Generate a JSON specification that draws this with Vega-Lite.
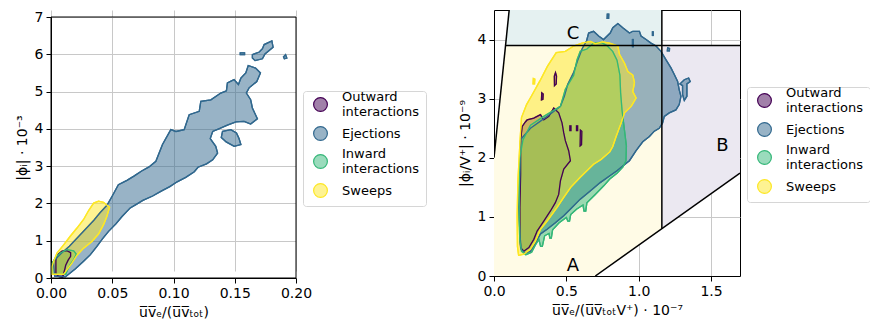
{
"$schema": "https://vega.github.io/schema/vega-lite/v6.json",
"padding": {"left": 15, "top": 9, "right": 0, "bottom": 0},
"autosize": {"type": "pad"},
"background": "white",
"spacing": 30,
"config": {
  "font": "DejaVu Sans",
  "view": {"stroke": "black", "strokeWidth": 1},
  "axis": {"labelFont": "DejaVu Sans", "labelFontSize": 14, "labelColor": "black", "titleFont": "DejaVu Sans", "titleFontSize": 14, "titleFontWeight": "normal", "titleColor": "black", "domainColor": "black", "tickColor": "black", "tickSize": 5, "gridColor": "#c8c8c8", "gridWidth": 1, "labelPadding": 3, "titlePadding": 5, "zindex": 1, "labelFlush": false},
  "legend": {"labelFont": "DejaVu Sans", "labelFontSize": 13, "labelColor": "black", "symbolType": "circle", "symbolSize": 190, "symbolStrokeWidth": 1.2, "strokeColor": "#d6d6d6", "fillColor": "white", "padding": 6, "cornerRadius": 3, "rowPadding": 5, "labelOffset": 14, "symbolOffset": 4}
},
"datasets": {
"box": [{"x": 0, "x2": 0.2, "y": 0, "y2": 7}],
"left": [
{"c":"O","p":"O1","i":0,"x":0.004,"y":0.12},{"c":"O","p":"O1","i":1,"x":0.004,"y":0.5},{"c":"O","p":"O1","i":2,"x":0.006,"y":0.64},{"c":"O","p":"O1","i":3,"x":0.009,"y":0.72},{"c":"O","p":"O1","i":4,"x":0.013,"y":0.73},{"c":"O","p":"O1","i":5,"x":0.016,"y":0.68},{"c":"O","p":"O1","i":6,"x":0.016,"y":0.58},{"c":"O","p":"O1","i":7,"x":0.014,"y":0.48},{"c":"O","p":"O1","i":8,"x":0.012,"y":0.34},{"c":"O","p":"O1","i":9,"x":0.011,"y":0.2},{"c":"O","p":"O1","i":10,"x":0.0095,"y":0.02},{"c":"O","p":"O1","i":11,"x":0.006,"y":0.04},
{"c":"E","p":"E1","i":0,"x":0.003,"y":0.05},{"c":"E","p":"E1","i":1,"x":0.0117,"y":0.03},{"c":"E","p":"E1","i":2,"x":0.02,"y":0.25},{"c":"E","p":"E1","i":3,"x":0.0266,"y":0.45},{"c":"E","p":"E1","i":4,"x":0.032,"y":0.62},{"c":"E","p":"E1","i":5,"x":0.0375,"y":0.85},{"c":"E","p":"E1","i":6,"x":0.042,"y":1.05},{"c":"E","p":"E1","i":7,"x":0.047,"y":1.25},{"c":"E","p":"E1","i":8,"x":0.053,"y":1.45},{"c":"E","p":"E1","i":9,"x":0.058,"y":1.65},{"c":"E","p":"E1","i":10,"x":0.0647,"y":1.88},{"c":"E","p":"E1","i":11,"x":0.07,"y":1.98},{"c":"E","p":"E1","i":12,"x":0.075,"y":2.08},{"c":"E","p":"E1","i":13,"x":0.083,"y":2.2},{"c":"E","p":"E1","i":14,"x":0.09,"y":2.33},{"c":"E","p":"E1","i":15,"x":0.097,"y":2.45},{"c":"E","p":"E1","i":16,"x":0.103,"y":2.58},{"c":"E","p":"E1","i":17,"x":0.11,"y":2.7},{"c":"E","p":"E1","i":18,"x":0.117,"y":2.85},{"c":"E","p":"E1","i":19,"x":0.12,"y":2.97},{"c":"E","p":"E1","i":20,"x":0.127,"y":3.06},{"c":"E","p":"E1","i":21,"x":0.132,"y":3.17},{"c":"E","p":"E1","i":22,"x":0.136,"y":3.35},{"c":"E","p":"E1","i":23,"x":0.1345,"y":3.53},{"c":"E","p":"E1","i":24,"x":0.13,"y":3.74},{"c":"E","p":"E1","i":25,"x":0.132,"y":3.93},{"c":"E","p":"E1","i":26,"x":0.137,"y":4.0},{"c":"E","p":"E1","i":27,"x":0.144,"y":4.1},{"c":"E","p":"E1","i":28,"x":0.151,"y":4.19},{"c":"E","p":"E1","i":29,"x":0.1576,"y":4.2},{"c":"E","p":"E1","i":30,"x":0.163,"y":4.13},{"c":"E","p":"E1","i":31,"x":0.1685,"y":4.27},{"c":"E","p":"E1","i":32,"x":0.1644,"y":4.56},{"c":"E","p":"E1","i":33,"x":0.163,"y":4.78},{"c":"E","p":"E1","i":34,"x":0.1595,"y":4.96},{"c":"E","p":"E1","i":35,"x":0.1617,"y":5.1},{"c":"E","p":"E1","i":36,"x":0.168,"y":5.27},{"c":"E","p":"E1","i":37,"x":0.171,"y":5.5},{"c":"E","p":"E1","i":38,"x":0.167,"y":5.63},{"c":"E","p":"E1","i":39,"x":0.161,"y":5.7},{"c":"E","p":"E1","i":40,"x":0.159,"y":5.5},{"c":"E","p":"E1","i":41,"x":0.155,"y":5.36},{"c":"E","p":"E1","i":42,"x":0.153,"y":5.19},{"c":"E","p":"E1","i":43,"x":0.1494,"y":5.32},{"c":"E","p":"E1","i":44,"x":0.144,"y":5.23},{"c":"E","p":"E1","i":45,"x":0.1432,"y":5.02},{"c":"E","p":"E1","i":46,"x":0.1386,"y":4.96},{"c":"E","p":"E1","i":47,"x":0.1305,"y":4.78},{"c":"E","p":"E1","i":48,"x":0.1223,"y":4.74},{"c":"E","p":"E1","i":49,"x":0.121,"y":4.47},{"c":"E","p":"E1","i":50,"x":0.1128,"y":4.38},{"c":"E","p":"E1","i":51,"x":0.1087,"y":3.98},{"c":"E","p":"E1","i":52,"x":0.102,"y":3.93},{"c":"E","p":"E1","i":53,"x":0.0978,"y":3.98},{"c":"E","p":"E1","i":54,"x":0.091,"y":3.58},{"c":"E","p":"E1","i":55,"x":0.0856,"y":3.13},{"c":"E","p":"E1","i":56,"x":0.08,"y":2.98},{"c":"E","p":"E1","i":57,"x":0.074,"y":2.87},{"c":"E","p":"E1","i":58,"x":0.068,"y":2.74},{"c":"E","p":"E1","i":59,"x":0.062,"y":2.62},{"c":"E","p":"E1","i":60,"x":0.055,"y":2.5},{"c":"E","p":"E1","i":61,"x":0.05,"y":2.2},{"c":"E","p":"E1","i":62,"x":0.0457,"y":1.95},{"c":"E","p":"E1","i":63,"x":0.04,"y":1.75},{"c":"E","p":"E1","i":64,"x":0.035,"y":1.55},{"c":"E","p":"E1","i":65,"x":0.025,"y":1.2},{"c":"E","p":"E1","i":66,"x":0.015,"y":0.85},{"c":"E","p":"E1","i":67,"x":0.008,"y":0.65},{"c":"E","p":"E1","i":68,"x":0.002,"y":0.45},
{"c":"E","p":"E2","i":0,"x":0.14,"y":3.93},{"c":"E","p":"E2","i":1,"x":0.1468,"y":3.98},{"c":"E","p":"E2","i":2,"x":0.1514,"y":3.89},{"c":"E","p":"E2","i":3,"x":0.1535,"y":3.74},{"c":"E","p":"E2","i":4,"x":0.155,"y":3.58},{"c":"E","p":"E2","i":5,"x":0.1495,"y":3.53},{"c":"E","p":"E2","i":6,"x":0.143,"y":3.65},{"c":"E","p":"E2","i":7,"x":0.139,"y":3.77},
{"c":"E","p":"E3","i":0,"x":0.1644,"y":5.99},{"c":"E","p":"E3","i":1,"x":0.17,"y":6.06},{"c":"E","p":"E3","i":2,"x":0.1726,"y":6.15},{"c":"E","p":"E3","i":3,"x":0.174,"y":6.26},{"c":"E","p":"E3","i":4,"x":0.1803,"y":6.36},{"c":"E","p":"E3","i":5,"x":0.1813,"y":6.19},{"c":"E","p":"E3","i":6,"x":0.1747,"y":6.01},{"c":"E","p":"E3","i":7,"x":0.1726,"y":5.88},{"c":"E","p":"E3","i":8,"x":0.1666,"y":5.83},{"c":"E","p":"E3","i":9,"x":0.1644,"y":5.9},
{"c":"E","p":"E4","i":0,"x":0.1545,"y":6.04},{"c":"E","p":"E4","i":1,"x":0.158,"y":6.04},{"c":"E","p":"E4","i":2,"x":0.158,"y":5.99},{"c":"E","p":"E4","i":3,"x":0.1545,"y":5.99},
{"c":"E","p":"E5","i":0,"x":0.1915,"y":5.99},{"c":"E","p":"E5","i":1,"x":0.1925,"y":5.9},{"c":"E","p":"E5","i":2,"x":0.1905,"y":5.88},{"c":"E","p":"E5","i":3,"x":0.1898,"y":5.93},
{"c":"I","p":"I1","i":0,"x":0.001,"y":0.1},{"c":"I","p":"I1","i":1,"x":0.001,"y":0.4},{"c":"I","p":"I1","i":2,"x":0.004,"y":0.56},{"c":"I","p":"I1","i":3,"x":0.0076,"y":0.67},{"c":"I","p":"I1","i":4,"x":0.013,"y":0.76},{"c":"I","p":"I1","i":5,"x":0.0185,"y":0.73},{"c":"I","p":"I1","i":6,"x":0.0206,"y":0.64},{"c":"I","p":"I1","i":7,"x":0.0185,"y":0.49},{"c":"I","p":"I1","i":8,"x":0.0157,"y":0.36},{"c":"I","p":"I1","i":9,"x":0.0135,"y":0.22},{"c":"I","p":"I1","i":10,"x":0.012,"y":0.1},
{"c":"S","p":"S1","i":0,"x":0.0008,"y":0.1},{"c":"S","p":"S1","i":1,"x":0.0008,"y":0.3},{"c":"S","p":"S1","i":2,"x":0.0022,"y":0.45},{"c":"S","p":"S1","i":3,"x":0.0049,"y":0.67},{"c":"S","p":"S1","i":4,"x":0.0103,"y":0.89},{"c":"S","p":"S1","i":5,"x":0.0157,"y":1.12},{"c":"S","p":"S1","i":6,"x":0.0212,"y":1.34},{"c":"S","p":"S1","i":7,"x":0.0266,"y":1.57},{"c":"S","p":"S1","i":8,"x":0.0307,"y":1.81},{"c":"S","p":"S1","i":9,"x":0.0348,"y":2.01},{"c":"S","p":"S1","i":10,"x":0.0388,"y":2.06},{"c":"S","p":"S1","i":11,"x":0.0429,"y":2.03},{"c":"S","p":"S1","i":12,"x":0.0478,"y":1.9},{"c":"S","p":"S1","i":13,"x":0.0456,"y":1.65},{"c":"S","p":"S1","i":14,"x":0.0429,"y":1.43},{"c":"S","p":"S1","i":15,"x":0.0388,"y":1.18},{"c":"S","p":"S1","i":16,"x":0.0334,"y":0.98},{"c":"S","p":"S1","i":17,"x":0.0266,"y":0.8},{"c":"S","p":"S1","i":18,"x":0.0212,"y":0.61},{"c":"S","p":"S1","i":19,"x":0.017,"y":0.4},{"c":"S","p":"S1","i":20,"x":0.013,"y":0.22},{"c":"S","p":"S1","i":21,"x":0.0103,"y":0.1}
],
"right": [
{"c":"O","p":"O1","i":0,"x":0.184,"y":0.48},{"c":"O","p":"O1","i":1,"x":0.206,"y":0.42},{"c":"O","p":"O1","i":2,"x":0.241,"y":0.48},{"c":"O","p":"O1","i":3,"x":0.275,"y":0.62},{"c":"O","p":"O1","i":4,"x":0.298,"y":0.76},{"c":"O","p":"O1","i":5,"x":0.344,"y":0.93},{"c":"O","p":"O1","i":6,"x":0.39,"y":1.1},{"c":"O","p":"O1","i":7,"x":0.424,"y":1.24},{"c":"O","p":"O1","i":8,"x":0.447,"y":1.38},{"c":"O","p":"O1","i":9,"x":0.459,"y":1.61},{"c":"O","p":"O1","i":10,"x":0.482,"y":1.81},{"c":"O","p":"O1","i":11,"x":0.528,"y":1.95},{"c":"O","p":"O1","i":12,"x":0.516,"y":2.12},{"c":"O","p":"O1","i":13,"x":0.493,"y":2.29},{"c":"O","p":"O1","i":14,"x":0.482,"y":2.42},{"c":"O","p":"O1","i":15,"x":0.47,"y":2.59},{"c":"O","p":"O1","i":16,"x":0.447,"y":2.76},{"c":"O","p":"O1","i":17,"x":0.413,"y":2.84},{"c":"O","p":"O1","i":18,"x":0.379,"y":2.7},{"c":"O","p":"O1","i":19,"x":0.344,"y":2.64},{"c":"O","p":"O1","i":20,"x":0.321,"y":2.73},{"c":"O","p":"O1","i":21,"x":0.275,"y":2.67},{"c":"O","p":"O1","i":22,"x":0.229,"y":2.64},{"c":"O","p":"O1","i":23,"x":0.218,"y":2.61},{"c":"O","p":"O1","i":24,"x":0.195,"y":2.53},{"c":"O","p":"O1","i":25,"x":0.184,"y":2.31},{"c":"O","p":"O1","i":26,"x":0.184,"y":1.72},{"c":"O","p":"O1","i":27,"x":0.179,"y":1.16},{"c":"O","p":"O1","i":28,"x":0.179,"y":0.7},
{"c":"O","p":"O2","i":0,"x":0.418,"y":3.22},{"c":"O","p":"O2","i":1,"x":0.43,"y":3.25},{"c":"O","p":"O2","i":2,"x":0.432,"y":3.38},{"c":"O","p":"O2","i":3,"x":0.425,"y":3.44},{"c":"O","p":"O2","i":4,"x":0.417,"y":3.38},
{"c":"O","p":"O3","i":0,"x":0.328,"y":2.98},{"c":"O","p":"O3","i":1,"x":0.338,"y":2.99},{"c":"O","p":"O3","i":2,"x":0.34,"y":3.08},{"c":"O","p":"O3","i":3,"x":0.33,"y":3.1},
{"c":"O","p":"O4","i":0,"x":0.524,"y":2.46},{"c":"O","p":"O4","i":1,"x":0.532,"y":2.46},{"c":"O","p":"O4","i":2,"x":0.532,"y":2.54},{"c":"O","p":"O4","i":3,"x":0.524,"y":2.54},
{"c":"O","p":"O5","i":0,"x":0.57,"y":2.46},{"c":"O","p":"O5","i":1,"x":0.578,"y":2.46},{"c":"O","p":"O5","i":2,"x":0.578,"y":2.54},{"c":"O","p":"O5","i":3,"x":0.57,"y":2.54},
{"c":"O","p":"O6","i":0,"x":0.595,"y":2.2},{"c":"O","p":"O6","i":1,"x":0.605,"y":2.22},{"c":"O","p":"O6","i":2,"x":0.607,"y":2.45},{"c":"O","p":"O6","i":3,"x":0.597,"y":2.47},
{"c":"E","p":"E1","i":0,"x":0.218,"y":0.39},{"c":"E","p":"E1","i":1,"x":0.252,"y":0.42},{"c":"E","p":"E1","i":2,"x":0.287,"y":0.56},{"c":"E","p":"E1","i":3,"x":0.321,"y":0.71},{"c":"E","p":"E1","i":4,"x":0.367,"y":0.79},{"c":"E","p":"E1","i":5,"x":0.424,"y":0.9},{"c":"E","p":"E1","i":6,"x":0.482,"y":1.02},{"c":"E","p":"E1","i":7,"x":0.539,"y":1.16},{"c":"E","p":"E1","i":8,"x":0.596,"y":1.3},{"c":"E","p":"E1","i":9,"x":0.665,"y":1.44},{"c":"E","p":"E1","i":10,"x":0.734,"y":1.58},{"c":"E","p":"E1","i":11,"x":0.803,"y":1.7},{"c":"E","p":"E1","i":12,"x":0.85,"y":1.78},{"c":"E","p":"E1","i":13,"x":0.89,"y":1.86},{"c":"E","p":"E1","i":14,"x":0.936,"y":1.95},{"c":"E","p":"E1","i":15,"x":0.982,"y":2.12},{"c":"E","p":"E1","i":16,"x":1.028,"y":2.27},{"c":"E","p":"E1","i":17,"x":1.074,"y":2.36},{"c":"E","p":"E1","i":18,"x":1.108,"y":2.45},{"c":"E","p":"E1","i":19,"x":1.142,"y":2.5},{"c":"E","p":"E1","i":20,"x":1.165,"y":2.59},{"c":"E","p":"E1","i":21,"x":1.177,"y":2.7},{"c":"E","p":"E1","i":22,"x":1.211,"y":2.76},{"c":"E","p":"E1","i":23,"x":1.257,"y":2.81},{"c":"E","p":"E1","i":24,"x":1.28,"y":2.9},{"c":"E","p":"E1","i":25,"x":1.292,"y":3.04},{"c":"E","p":"E1","i":26,"x":1.28,"y":3.15},{"c":"E","p":"E1","i":27,"x":1.269,"y":3.29},{"c":"E","p":"E1","i":28,"x":1.246,"y":3.41},{"c":"E","p":"E1","i":29,"x":1.223,"y":3.52},{"c":"E","p":"E1","i":30,"x":1.188,"y":3.66},{"c":"E","p":"E1","i":31,"x":1.154,"y":3.8},{"c":"E","p":"E1","i":32,"x":1.12,"y":3.89},{"c":"E","p":"E1","i":33,"x":1.085,"y":3.94},{"c":"E","p":"E1","i":34,"x":1.051,"y":4.0},{"c":"E","p":"E1","i":35,"x":1.016,"y":4.06},{"c":"E","p":"E1","i":36,"x":1.005,"y":4.14},{"c":"E","p":"E1","i":37,"x":0.959,"y":4.14},{"c":"E","p":"E1","i":38,"x":0.936,"y":4.11},{"c":"E","p":"E1","i":39,"x":0.89,"y":4.2},{"c":"E","p":"E1","i":40,"x":0.856,"y":4.27},{"c":"E","p":"E1","i":41,"x":0.821,"y":4.2},{"c":"E","p":"E1","i":42,"x":0.803,"y":4.11},{"c":"E","p":"E1","i":43,"x":0.757,"y":4.0},{"c":"E","p":"E1","i":44,"x":0.723,"y":4.06},{"c":"E","p":"E1","i":45,"x":0.688,"y":4.14},{"c":"E","p":"E1","i":46,"x":0.654,"y":4.11},{"c":"E","p":"E1","i":47,"x":0.64,"y":3.98},{"c":"E","p":"E1","i":48,"x":0.61,"y":3.85},{"c":"E","p":"E1","i":49,"x":0.58,"y":3.66},{"c":"E","p":"E1","i":50,"x":0.55,"y":3.44},{"c":"E","p":"E1","i":51,"x":0.509,"y":3.24},{"c":"E","p":"E1","i":52,"x":0.486,"y":3.04},{"c":"E","p":"E1","i":53,"x":0.459,"y":2.87},{"c":"E","p":"E1","i":54,"x":0.401,"y":2.76},{"c":"E","p":"E1","i":55,"x":0.321,"y":2.62},{"c":"E","p":"E1","i":56,"x":0.252,"y":2.5},{"c":"E","p":"E1","i":57,"x":0.184,"y":2.31},{"c":"E","p":"E1","i":58,"x":0.179,"y":1.72},{"c":"E","p":"E1","i":59,"x":0.172,"y":1.16},{"c":"E","p":"E1","i":60,"x":0.179,"y":0.71},{"c":"E","p":"E1","i":61,"x":0.188,"y":0.45},
{"c":"E","p":"E2","i":0,"x":1.285,"y":3.25},{"c":"E","p":"E2","i":1,"x":1.315,"y":3.32},{"c":"E","p":"E2","i":2,"x":1.345,"y":3.35},{"c":"E","p":"E2","i":3,"x":1.356,"y":3.29},{"c":"E","p":"E2","i":4,"x":1.333,"y":3.25},{"c":"E","p":"E2","i":5,"x":1.333,"y":3.04},{"c":"E","p":"E2","i":6,"x":1.315,"y":2.97},{"c":"E","p":"E2","i":7,"x":1.303,"y":3.07},{"c":"E","p":"E2","i":8,"x":1.303,"y":3.22},
{"c":"E","p":"E3","i":0,"x":0.782,"y":4.36},{"c":"E","p":"E3","i":1,"x":0.792,"y":4.36},{"c":"E","p":"E3","i":2,"x":0.793,"y":4.43},{"c":"E","p":"E3","i":3,"x":0.783,"y":4.43},
{"c":"E","p":"E4","i":0,"x":1.2,"y":3.86},{"c":"E","p":"E4","i":1,"x":1.213,"y":3.85},{"c":"E","p":"E4","i":2,"x":1.212,"y":3.81},{"c":"E","p":"E4","i":3,"x":1.198,"y":3.81},
{"c":"E","p":"E5","i":0,"x":0.957,"y":3.88},{"c":"E","p":"E5","i":1,"x":0.962,"y":3.88},{"c":"E","p":"E5","i":2,"x":0.962,"y":4.0},{"c":"E","p":"E5","i":3,"x":0.957,"y":4.0},
{"c":"E","p":"E6","i":0,"x":1.095,"y":4.07},{"c":"E","p":"E6","i":1,"x":1.1,"y":4.07},{"c":"E","p":"E6","i":2,"x":1.1,"y":4.13},{"c":"E","p":"E6","i":3,"x":1.095,"y":4.13},
{"c":"I","p":"I1","i":0,"x":0.19,"y":0.42},{"c":"I","p":"I1","i":1,"x":0.22,"y":0.36},{"c":"I","p":"I1","i":2,"x":0.26,"y":0.4},{"c":"I","p":"I1","i":3,"x":0.285,"y":0.52},{"c":"I","p":"I1","i":4,"x":0.31,"y":0.62},{"c":"I","p":"I1","i":5,"x":0.322,"y":0.5},{"c":"I","p":"I1","i":6,"x":0.334,"y":0.5},{"c":"I","p":"I1","i":7,"x":0.35,"y":0.68},{"c":"I","p":"I1","i":8,"x":0.38,"y":0.72},{"c":"I","p":"I1","i":9,"x":0.386,"y":0.64},{"c":"I","p":"I1","i":10,"x":0.396,"y":0.64},{"c":"I","p":"I1","i":11,"x":0.405,"y":0.78},{"c":"I","p":"I1","i":12,"x":0.45,"y":0.9},{"c":"I","p":"I1","i":13,"x":0.5,"y":0.99},{"c":"I","p":"I1","i":14,"x":0.51,"y":0.93},{"c":"I","p":"I1","i":15,"x":0.522,"y":0.93},{"c":"I","p":"I1","i":16,"x":0.53,"y":1.04},{"c":"I","p":"I1","i":17,"x":0.57,"y":1.13},{"c":"I","p":"I1","i":18,"x":0.615,"y":1.2},{"c":"I","p":"I1","i":19,"x":0.622,"y":1.1},{"c":"I","p":"I1","i":20,"x":0.634,"y":1.1},{"c":"I","p":"I1","i":21,"x":0.642,"y":1.24},{"c":"I","p":"I1","i":22,"x":0.7,"y":1.38},{"c":"I","p":"I1","i":23,"x":0.76,"y":1.53},{"c":"I","p":"I1","i":24,"x":0.8,"y":1.64},{"c":"I","p":"I1","i":25,"x":0.85,"y":1.74},{"c":"I","p":"I1","i":26,"x":0.89,"y":1.84},{"c":"I","p":"I1","i":27,"x":0.912,"y":1.95},{"c":"I","p":"I1","i":28,"x":0.915,"y":2.2},{"c":"I","p":"I1","i":29,"x":0.9,"y":2.5},{"c":"I","p":"I1","i":30,"x":0.885,"y":2.8},{"c":"I","p":"I1","i":31,"x":0.875,"y":3.1},{"c":"I","p":"I1","i":32,"x":0.87,"y":3.4},{"c":"I","p":"I1","i":33,"x":0.85,"y":3.65},{"c":"I","p":"I1","i":34,"x":0.82,"y":3.8},{"c":"I","p":"I1","i":35,"x":0.78,"y":3.9},{"c":"I","p":"I1","i":36,"x":0.74,"y":3.95},{"c":"I","p":"I1","i":37,"x":0.688,"y":3.94},{"c":"I","p":"I1","i":38,"x":0.642,"y":3.84},{"c":"I","p":"I1","i":39,"x":0.596,"y":3.8},{"c":"I","p":"I1","i":40,"x":0.574,"y":3.66},{"c":"I","p":"I1","i":41,"x":0.55,"y":3.39},{"c":"I","p":"I1","i":42,"x":0.493,"y":3.16},{"c":"I","p":"I1","i":43,"x":0.459,"y":2.87},{"c":"I","p":"I1","i":44,"x":0.344,"y":2.7},{"c":"I","p":"I1","i":45,"x":0.252,"y":2.55},{"c":"I","p":"I1","i":46,"x":0.2,"y":2.3},{"c":"I","p":"I1","i":47,"x":0.178,"y":2.0},{"c":"I","p":"I1","i":48,"x":0.174,"y":1.5},{"c":"I","p":"I1","i":49,"x":0.174,"y":1.0},{"c":"I","p":"I1","i":50,"x":0.178,"y":0.6},
{"c":"S","p":"S1","i":0,"x":0.17,"y":0.35},{"c":"S","p":"S1","i":1,"x":0.206,"y":0.37},{"c":"S","p":"S1","i":2,"x":0.252,"y":0.45},{"c":"S","p":"S1","i":3,"x":0.287,"y":0.59},{"c":"S","p":"S1","i":4,"x":0.321,"y":0.79},{"c":"S","p":"S1","i":5,"x":0.367,"y":0.93},{"c":"S","p":"S1","i":6,"x":0.436,"y":1.16},{"c":"S","p":"S1","i":7,"x":0.482,"y":1.33},{"c":"S","p":"S1","i":8,"x":0.53,"y":1.5},{"c":"S","p":"S1","i":9,"x":0.596,"y":1.67},{"c":"S","p":"S1","i":10,"x":0.688,"y":1.89},{"c":"S","p":"S1","i":11,"x":0.74,"y":1.97},{"c":"S","p":"S1","i":12,"x":0.8,"y":2.1},{"c":"S","p":"S1","i":13,"x":0.821,"y":2.19},{"c":"S","p":"S1","i":14,"x":0.844,"y":2.36},{"c":"S","p":"S1","i":15,"x":0.879,"y":2.59},{"c":"S","p":"S1","i":16,"x":0.902,"y":2.76},{"c":"S","p":"S1","i":17,"x":0.948,"y":2.87},{"c":"S","p":"S1","i":18,"x":0.982,"y":3.01},{"c":"S","p":"S1","i":19,"x":0.959,"y":3.12},{"c":"S","p":"S1","i":20,"x":0.971,"y":3.27},{"c":"S","p":"S1","i":21,"x":0.959,"y":3.4},{"c":"S","p":"S1","i":22,"x":0.925,"y":3.46},{"c":"S","p":"S1","i":23,"x":0.902,"y":3.6},{"c":"S","p":"S1","i":24,"x":0.867,"y":3.75},{"c":"S","p":"S1","i":25,"x":0.856,"y":3.89},{"c":"S","p":"S1","i":26,"x":0.798,"y":3.94},{"c":"S","p":"S1","i":27,"x":0.75,"y":3.96},{"c":"S","p":"S1","i":28,"x":0.7,"y":3.93},{"c":"S","p":"S1","i":29,"x":0.665,"y":3.97},{"c":"S","p":"S1","i":30,"x":0.608,"y":3.94},{"c":"S","p":"S1","i":31,"x":0.551,"y":3.89},{"c":"S","p":"S1","i":32,"x":0.493,"y":3.8},{"c":"S","p":"S1","i":33,"x":0.43,"y":3.78},{"c":"S","p":"S1","i":34,"x":0.37,"y":3.55},{"c":"S","p":"S1","i":35,"x":0.317,"y":3.3},{"c":"S","p":"S1","i":36,"x":0.26,"y":3.05},{"c":"S","p":"S1","i":37,"x":0.225,"y":2.9},{"c":"S","p":"S1","i":38,"x":0.19,"y":2.68},{"c":"S","p":"S1","i":39,"x":0.18,"y":2.29},{"c":"S","p":"S1","i":40,"x":0.165,"y":1.6},{"c":"S","p":"S1","i":41,"x":0.16,"y":1.0},{"c":"S","p":"S1","i":42,"x":0.162,"y":0.5},
{"c":"S","p":"S2","i":0,"x":0.27,"y":3.25},{"c":"S","p":"S2","i":1,"x":0.28,"y":3.25},{"c":"S","p":"S2","i":2,"x":0.282,"y":3.33},{"c":"S","p":"S2","i":3,"x":0.272,"y":3.34}
],
"regions": [
{"r":"A","i":0,"x":0,"y":0},{"r":"A","i":1,"x":0.7,"y":0},{"r":"A","i":2,"x":1.16,"y":0.8},{"r":"A","i":3,"x":1.16,"y":3.9},{"r":"A","i":4,"x":0.08,"y":3.9},{"r":"A","i":5,"x":0,"y":2.0},
{"r":"B","i":0,"x":1.16,"y":0.8},{"r":"B","i":1,"x":1.7,"y":1.74},{"r":"B","i":2,"x":1.7,"y":3.9},{"r":"B","i":3,"x":1.16,"y":3.9},
{"r":"C","i":0,"x":0.08,"y":3.9},{"r":"C","i":1,"x":1.16,"y":3.9},{"r":"C","i":2,"x":1.16,"y":4.5},{"r":"C","i":3,"x":0.105,"y":4.5}
],
"lines": [
{"s":"L1","i":0,"x":0,"y":2.0},{"s":"L1","i":1,"x":0.105,"y":4.5},
{"s":"L2","i":0,"x":0.08,"y":3.9},{"s":"L2","i":1,"x":1.7,"y":3.9},
{"s":"L3","i":0,"x":1.16,"y":0.8},{"s":"L3","i":1,"x":1.16,"y":4.5},
{"s":"L4","i":0,"x":0.7,"y":0},{"s":"L4","i":1,"x":1.7,"y":1.74}
],
"labels": [
{"t":"A","x":0.546,"y":0.17},{"t":"B","x":1.578,"y":2.2},{"t":"C","x":0.546,"y":4.1}
]
},
"resolve": {"scale": {"x": "independent", "y": "independent", "fill": "independent", "stroke": "independent"}, "legend": {"fill": "independent", "stroke": "independent"}},
"hconcat": [
{
 "width": 245, "height": 268,
 "view": {"stroke": null},
 "encoding": {
  "x": {"field": "x", "type": "quantitative", "scale": {"domain": [0, 0.2], "nice": false, "zero": false}, "axis": {"values": [0, 0.05, 0.1, 0.15, 0.2], "format": ".2f", "title": "u\u0305v\u0305\u2091/(u\u0305v\u0305\u209c\u2092\u209c)"}},
  "y": {"field": "y", "type": "quantitative", "scale": {"domain": [0, 7], "nice": false, "zero": false, "range": [268, 7]}, "axis": {"values": [0, 1, 2, 3, 4, 5, 6, 7], "format": "d", "title": "|\u03d5\u1d62| \u00b7 10\u207b\u00b3"}}
 },
 "layer": [
  {"data": {"name": "left"}, "transform": [{"filter": "datum.c == 'O'"}], "mark": {"type": "line", "interpolate": "linear-closed", "strokeWidth": 1.3, "clip": true},
   "encoding": {"detail": {"field": "p"}, "order": {"field": "i"},
    "fill": {"field": "c", "type": "nominal", "scale": {"domain": ["O", "E", "I", "S"], "range": ["rgba(68,1,84,0.5)", "rgba(49,104,142,0.5)", "rgba(53,183,121,0.5)", "rgba(253,231,37,0.5)"]}, "legend": {"title": null, "orient": "none", "legendX": 252, "legendY": 81, "labelExpr": "datum.label == 'O' ? ['Outward', 'interactions'] : datum.label == 'E' ? 'Ejections' : datum.label == 'I' ? ['Inward', 'interactions'] : 'Sweeps'", "encode": {"labels": {"update": {"dy": {"signal": "datum.value == 'O' || datum.value == 'I' ? -7.5 : 0"}}}}}},
    "stroke": {"field": "c", "type": "nominal", "scale": {"domain": ["O", "E", "I", "S"], "range": ["#440154", "#31688e", "#35b779", "#fde725"]}, "legend": {"title": null, "orient": "none", "legendX": 252, "legendY": 81, "labelExpr": "datum.label == 'O' ? ['Outward', 'interactions'] : datum.label == 'E' ? 'Ejections' : datum.label == 'I' ? ['Inward', 'interactions'] : 'Sweeps'", "encode": {"labels": {"update": {"dy": {"signal": "datum.value == 'O' || datum.value == 'I' ? -7.5 : 0"}}}}}}}},
  {"data": {"name": "left"}, "transform": [{"filter": "datum.c == 'E'"}], "mark": {"type": "line", "interpolate": "linear-closed", "strokeWidth": 1.3, "clip": true},
   "encoding": {"detail": {"field": "p"}, "order": {"field": "i"}, "fill": {"field": "c", "type": "nominal"}, "stroke": {"field": "c", "type": "nominal"}}},
  {"data": {"name": "left"}, "transform": [{"filter": "datum.c == 'I'"}], "mark": {"type": "line", "interpolate": "linear-closed", "strokeWidth": 1.3, "clip": true},
   "encoding": {"detail": {"field": "p"}, "order": {"field": "i"}, "fill": {"field": "c", "type": "nominal"}, "stroke": {"field": "c", "type": "nominal"}}},
  {"data": {"name": "left"}, "transform": [{"filter": "datum.c == 'S'"}], "mark": {"type": "line", "interpolate": "linear-closed", "strokeWidth": 1.3, "clip": true},
   "encoding": {"detail": {"field": "p"}, "order": {"field": "i"}, "fill": {"field": "c", "type": "nominal"}, "stroke": {"field": "c", "type": "nominal"}}},
  {"data": {"name": "left"}, "mark": {"type": "line", "interpolate": "linear-closed", "strokeWidth": 1.3, "clip": true},
   "encoding": {"detail": {"field": "p"}, "order": {"field": "i"}, "stroke": {"field": "c", "type": "nominal"}}},
  {"data": {"name": "box"}, "mark": {"type": "rect", "fill": null, "stroke": "black", "strokeWidth": 1}, "encoding": {"x2": {"field": "x2"}, "y2": {"field": "y2"}}}
 ]
},
{
 "width": 246, "height": 266,
 "encoding": {
  "x": {"field": "x", "type": "quantitative", "scale": {"domain": [0, 1.7], "nice": false, "zero": false}, "axis": {"values": [0, 0.5, 1, 1.5], "format": ".1f", "title": "u\u0305v\u0305\u2091/(u\u0305v\u0305\u209c\u2092\u209cV\u207a) \u00b7 10\u207b\u2077"}},
  "y": {"field": "y", "type": "quantitative", "scale": {"domain": [0, 4.5], "nice": false, "zero": false}, "axis": {"values": [0, 1, 2, 3, 4], "format": "d", "title": "|\u03d5\u1d62/V\u207a| \u00b7 10\u207b\u2079"}}
 },
 "layer": [
  {"data": {"name": "regions"}, "transform": [{"filter": "datum.r == 'A'"}], "mark": {"type": "line", "interpolate": "linear-closed", "fill": "#fffbe6", "strokeOpacity": 0, "clip": true}, "encoding": {"order": {"field": "i"}}},
  {"data": {"name": "regions"}, "transform": [{"filter": "datum.r == 'B'"}], "mark": {"type": "line", "interpolate": "linear-closed", "fill": "#ebe8f1", "strokeOpacity": 0, "clip": true}, "encoding": {"order": {"field": "i"}}},
  {"data": {"name": "regions"}, "transform": [{"filter": "datum.r == 'C'"}], "mark": {"type": "line", "interpolate": "linear-closed", "fill": "#e5f1f1", "strokeOpacity": 0, "clip": true}, "encoding": {"order": {"field": "i"}}},
  {"data": {"name": "right"}, "transform": [{"filter": "datum.c == 'O'"}], "mark": {"type": "line", "interpolate": "linear-closed", "strokeWidth": 1.3, "clip": true},
   "encoding": {"detail": {"field": "p"}, "order": {"field": "i"},
    "fill": {"field": "c", "type": "nominal", "scale": {"domain": ["O", "E", "I", "S"], "range": ["rgba(68,1,84,0.5)", "rgba(49,104,142,0.5)", "rgba(53,183,121,0.5)", "rgba(253,231,37,0.5)"]}, "legend": {"title": null, "orient": "none", "legendX": 253, "legendY": 77, "labelExpr": "datum.label == 'O' ? ['Outward', 'interactions'] : datum.label == 'E' ? 'Ejections' : datum.label == 'I' ? ['Inward', 'interactions'] : 'Sweeps'", "encode": {"labels": {"update": {"dy": {"signal": "datum.value == 'O' || datum.value == 'I' ? -7.5 : 0"}}}}}},
    "stroke": {"field": "c", "type": "nominal", "scale": {"domain": ["O", "E", "I", "S"], "range": ["#440154", "#31688e", "#35b779", "#fde725"]}, "legend": {"title": null, "orient": "none", "legendX": 253, "legendY": 77, "labelExpr": "datum.label == 'O' ? ['Outward', 'interactions'] : datum.label == 'E' ? 'Ejections' : datum.label == 'I' ? ['Inward', 'interactions'] : 'Sweeps'", "encode": {"labels": {"update": {"dy": {"signal": "datum.value == 'O' || datum.value == 'I' ? -7.5 : 0"}}}}}}}},
  {"data": {"name": "right"}, "transform": [{"filter": "datum.c == 'E'"}], "mark": {"type": "line", "interpolate": "linear-closed", "strokeWidth": 1.3, "clip": true},
   "encoding": {"detail": {"field": "p"}, "order": {"field": "i"}, "fill": {"field": "c", "type": "nominal"}, "stroke": {"field": "c", "type": "nominal"}}},
  {"data": {"name": "right"}, "transform": [{"filter": "datum.c == 'I'"}], "mark": {"type": "line", "interpolate": "linear-closed", "strokeWidth": 1.3, "clip": true},
   "encoding": {"detail": {"field": "p"}, "order": {"field": "i"}, "fill": {"field": "c", "type": "nominal"}, "stroke": {"field": "c", "type": "nominal"}}},
  {"data": {"name": "right"}, "transform": [{"filter": "datum.c == 'S'"}], "mark": {"type": "line", "interpolate": "linear-closed", "strokeWidth": 1.3, "clip": true},
   "encoding": {"detail": {"field": "p"}, "order": {"field": "i"}, "fill": {"field": "c", "type": "nominal"}, "stroke": {"field": "c", "type": "nominal"}}},
  {"data": {"name": "right"}, "mark": {"type": "line", "interpolate": "linear-closed", "strokeWidth": 1.3, "clip": true},
   "encoding": {"detail": {"field": "p"}, "order": {"field": "i"}, "stroke": {"field": "c", "type": "nominal"}}},
  {"data": {"name": "lines"}, "mark": {"type": "line", "color": "black", "strokeWidth": 1.5, "clip": true}, "encoding": {"detail": {"field": "s"}, "order": {"field": "i"}}},
  {"data": {"name": "labels"}, "mark": {"type": "text", "fontSize": 18, "font": "DejaVu Sans", "color": "black"}, "encoding": {"text": {"field": "t"}}}
 ]
}
]
}
